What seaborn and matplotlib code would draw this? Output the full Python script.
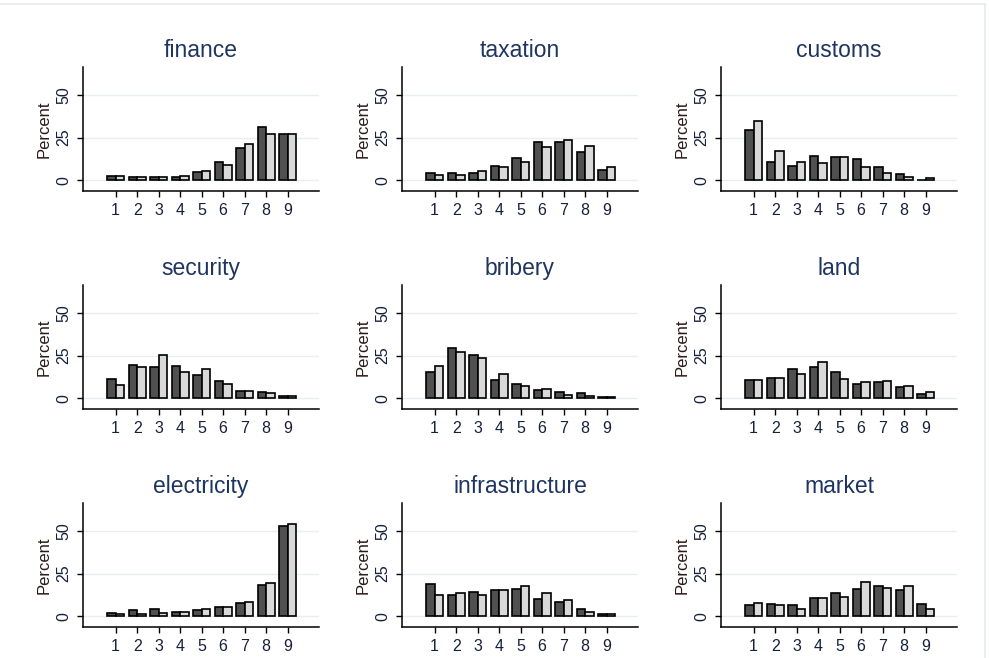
import matplotlib
matplotlib.use("Agg")
import matplotlib.pyplot as plt
from matplotlib.lines import Line2D
import numpy as np
import pandas as pd
import seaborn as sns

# Response categories on the x axis
categories = [1, 2, 3, 4, 5, 6, 7, 8, 9]
groups = ["first", "second"]

# Percent of respondents per category, (dark series, light series)
finance_dark = [2.5, 2.0, 2.0, 2.0, 4.9, 10.7, 18.8, 31.0, 27.3]
finance_light = [2.5, 2.0, 2.0, 2.7, 5.7, 9.2, 21.5, 27.3, 27.3]
taxation_dark = [4.3, 4.3, 4.3, 8.6, 12.9, 22.3, 22.3, 16.6, 6.3]
taxation_light = [3.3, 3.3, 5.7, 7.8, 10.7, 19.3, 23.8, 20.1, 7.8]
customs_dark = [29.7, 10.7, 8.6, 14.3, 13.7, 12.3, 7.8, 3.5, 0.2]
customs_light = [34.8, 17.4, 10.7, 10.0, 13.7, 8.0, 4.1, 2.1, 1.5]
security_dark = [11.5, 19.5, 18.2, 18.8, 13.7, 10.0, 4.3, 3.7, 1.2]
security_light = [7.8, 18.2, 25.2, 15.6, 17.4, 8.6, 4.3, 2.9, 1.2]
bribery_dark = [15.2, 29.7, 25.2, 10.7, 8.6, 5.1, 3.5, 2.9, 0.6]
bribery_light = [18.8, 27.0, 23.8, 14.5, 7.2, 5.7, 2.0, 1.2, 0.6]
land_dark = [10.7, 12.1, 17.4, 18.2, 15.2, 8.6, 9.4, 6.4, 2.7]
land_light = [10.7, 12.1, 14.5, 21.1, 11.5, 9.4, 10.2, 7.2, 3.5]
electricity_dark = [2.2, 3.5, 4.3, 2.7, 3.5, 5.7, 7.8, 18.2, 53.1]
electricity_light = [1.4, 1.4, 2.2, 2.7, 4.3, 5.7, 8.6, 19.6, 53.9]
infrastructure_dark = [18.8, 12.4, 14.5, 15.3, 15.9, 10.2, 8.6, 4.3, 1.4]
infrastructure_light = [12.4, 13.7, 12.4, 15.3, 18.0, 13.7, 9.4, 2.7, 1.4]
market_dark = [6.5, 7.2, 6.5, 10.8, 13.7, 15.9, 18.0, 15.3, 7.2]
market_light = [7.8, 6.5, 4.3, 10.8, 11.6, 20.4, 16.7, 17.5, 4.3]

panels = [
    ("finance", finance_dark, finance_light),
    ("taxation", taxation_dark, taxation_light),
    ("customs", customs_dark, customs_light),
    ("security", security_dark, security_light),
    ("bribery", bribery_dark, bribery_light),
    ("land", land_dark, land_light),
    ("electricity", electricity_dark, electricity_light),
    ("infrastructure", infrastructure_dark, infrastructure_light),
    ("market", market_dark, market_light),
]
y_ticks = [0, 25, 50]

sns.set_theme(style="white")
plt.rcParams["font.family"] = ["Liberation Sans", "DejaVu Sans"]

W, H = 989, 658
fig = plt.figure(figsize=(W / 100, H / 100), dpi=100)
fig.patch.set_facecolor("white")

# pixel geometry of the 3x3 grid of axes
col_left = [83, 402, 721]
row_top = [67, 285, 503]
ax_w, ax_h = 236, 124

title_color = "#1e3560"
tick_color = "#15203a"
palette = {"first": "#505050", "second": "#d9d9d9"}

for i, (name, dark, light) in enumerate(panels):
    r, c = divmod(i, 3)
    left = col_left[c] / W
    bottom = 1 - (row_top[r] + ax_h) / H
    ax = fig.add_axes([left, bottom, ax_w / W, ax_h / H])

    df = pd.DataFrame({
        "category": [str(k) for k in categories] * 2,
        "group": [groups[0]] * len(categories) + [groups[1]] * len(categories),
        "percent": list(dark) + list(light),
    })
    for yt in y_ticks:
        ax.axhline(yt, color="#e6eff1", lw=1.0, zorder=0)
    sns.barplot(
        data=df, x="category", y="percent", hue="group",
        order=[str(k) for k in categories], hue_order=groups,
        palette=palette, edgecolor="black", linewidth=1.2,
        width=0.8, legend=False, errorbar=None, ax=ax, zorder=2,
    )
    ax.set_xlim(-1.52, 9.46)
    ax.set_ylim(-6.2, 66.3)
    ax.set_yticks(y_ticks)
    ax.set_yticklabels([str(t) for t in y_ticks], rotation=90, va="center")
    ax.set_xlabel("")
    ax.set_ylabel("Percent", fontsize=12, color="#2a1a1a", labelpad=3)
    ax.set_title(name, fontsize=16.5, color=title_color, pad=7)
    for side in ["top", "right"]:
        ax.spines[side].set_visible(False)
    for side in ["left", "bottom"]:
        ax.spines[side].set_color("black")
        ax.spines[side].set_linewidth(1.1)
    ax.tick_params(axis="both", which="major", direction="out", length=4.5,
                   width=1.0, color="black", labelsize=11.5,
                   labelcolor=tick_color, left=True, bottom=True, pad=4)
    ax.set_facecolor("white")

# faint frame along the top and right edges
fig.add_artist(Line2D([0, 985 / W], [1 - 4 / H, 1 - 4 / H],
                      transform=fig.transFigure, color="#e3eaef", lw=1.2))
fig.add_artist(Line2D([985 / W, 985 / W], [0, 1 - 4 / H],
                      transform=fig.transFigure, color="#e3eaef", lw=1.2))

fig.savefig("out.png", dpi=100, facecolor="white")
